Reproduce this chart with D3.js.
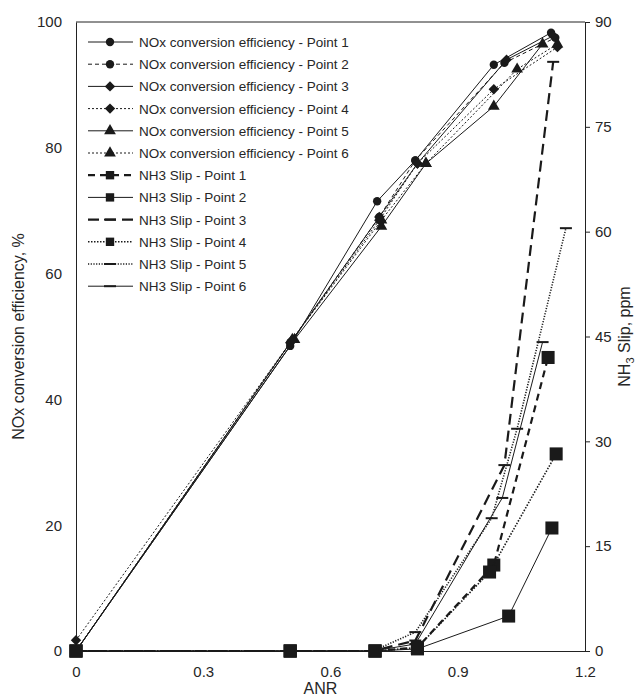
<!DOCTYPE html>
<html><head><meta charset="utf-8">
<script src="https://cdn.jsdelivr.net/npm/d3@7"></script>
<style>body{margin:0;background:#fff}svg{display:block;font-family:"Liberation Sans",Arial,sans-serif}</style>
</head><body><svg id="c" width="635" height="698"></svg>
<script>
// NOx conversion efficiency (%) vs ANR
const anrNOx1 = [0, 0.505, 0.71, 0.80, 0.985, 1.12];
const effNOx1 = [0, 48.5, 71.5, 78, 93.2, 98.3];
const anrNOx2 = [0, 0.505, 0.715, 0.80, 1.01, 1.13];
const effNOx2 = [0, 49, 69, 78, 93.5, 97.5];
const anrNOx3 = [0, 0.505, 0.715, 0.805, 1.015, 1.125];
const effNOx3 = [0, 49, 69, 77.5, 94, 97.8];
const anrNOx4 = [0, 0.51, 0.715, 0.805, 0.985, 1.135];
const effNOx4 = [1.7, 49.5, 68.5, 77.5, 89.3, 96];
const anrNOx5 = [0, 0.515, 0.72, 0.825, 0.985, 1.10];
const effNOx5 = [0, 49.5, 67.5, 77.5, 86.6, 96.5];
const anrNOx6 = [0, 0.51, 0.72, 0.825, 1.04, 1.135];
const effNOx6 = [0, 49.5, 68.5, 77.5, 92.5, 96.5];
// NH3 slip (ppm) vs ANR
const anrNH3_1 = [0, 0.505, 0.705, 0.805, 0.985, 1.113];
const slipNH3_1 = [0, 0, 0, 0.5, 12.3, 42];
const anrNH3_2 = [0, 0.505, 0.705, 0.805, 1.02, 1.122];
const slipNH3_2 = [0, 0, 0, 0.3, 5, 17.6];
const anrNH3_3 = [0, 0.5, 0.7, 0.80, 1.01, 1.125];
const slipNH3_3 = [0, 0, 0, 1.5, 26.6, 84.3];
const anrNH3_4 = [0, 0.505, 0.705, 0.805, 0.975, 1.132];
const slipNH3_4 = [0, 0, 0, 0.5, 11.3, 28.2];
const anrNH3_5 = [0, 0.5, 0.7, 0.80, 0.98, 1.04, 1.155];
const slipNH3_5 = [0, 0, 0, 2.7, 19, 31.8, 60.5];
const anrNH3_6 = [0, 0.5, 0.7, 0.80, 1.005, 1.10];
const slipNH3_6 = [0, 0, 0, 1, 21.9, 44.2];

const xTicks = [0, 0.3, 0.6, 0.9, 1.2];
const yLeftTicks = [0, 20, 40, 60, 80, 100];
const yRightTicks = [0, 15, 30, 45, 60, 75, 90];
const legendLabels = [
  "NOx conversion efficiency - Point 1","NOx conversion efficiency - Point 2",
  "NOx conversion efficiency - Point 3","NOx conversion efficiency - Point 4",
  "NOx conversion efficiency - Point 5","NOx conversion efficiency - Point 6",
  "NH3 Slip - Point 1","NH3 Slip - Point 2","NH3 Slip - Point 3",
  "NH3 Slip - Point 4","NH3 Slip - Point 5","NH3 Slip - Point 6"];

const svg = d3.select("#c");
const L = 76, R = 585, T = 22, B = 651;
const x = d3.scaleLinear().domain([0, 1.2]).range([L, R]);
const yL = d3.scaleLinear().domain([0, 100]).range([B, T]);
const yR = d3.scaleLinear().domain([0, 90]).range([B, T]);
const ink = "#1a1a1a", txt = "#262626";

// frame
svg.append("line").attr("x1", L).attr("x2", R).attr("y1", T).attr("y2", T).attr("stroke", "#222").attr("stroke-width", 1);
const axB = svg.append("g").attr("transform", `translate(0,${B})`)
  .call(d3.axisBottom(x).tickValues(xTicks).tickFormat(d => d === 0 ? "0" : d3.format(".1f")(d)).tickSize(0).tickPadding(15));
const axL = svg.append("g").attr("transform", `translate(${L},0)`)
  .call(d3.axisLeft(yL).tickValues(yLeftTicks).tickSize(0).tickPadding(14));
const axR = svg.append("g").attr("transform", `translate(${R},0)`)
  .call(d3.axisRight(yR).tickValues(yRightTicks).tickSize(5).tickPadding(5));
[axB, axL, axR].forEach(a => {
  a.select(".domain").attr("stroke", "#222");
  a.selectAll(".tick line").attr("stroke", "#222");
  a.selectAll("text").attr("font-size", 15).attr("fill", txt).attr("font-family", "Liberation Sans, Arial, sans-serif");
});

// titles
svg.append("text").attr("x", (L + R) / 2 - 10).attr("y", 694).attr("text-anchor", "middle")
  .attr("font-size", 16).attr("fill", txt).text("ANR");
svg.append("text").attr("transform", `translate(24,${(T + B) / 2}) rotate(-90)`).attr("text-anchor", "middle")
  .attr("font-size", 16).attr("fill", txt).text("NOx conversion efficiency, %");
const rt = svg.append("text").attr("transform", `translate(630,${(T + B) / 2}) rotate(-90)`).attr("text-anchor", "middle")
  .attr("font-size", 16).attr("fill", txt);
rt.append("tspan").text("NH");
rt.append("tspan").attr("font-size", 11).attr("dy", 4).text("3");
rt.append("tspan").attr("dy", -4).text(" Slip, ppm");

const series = [
  {xs: anrNOx1, ys: effNOx1, y: yL, dash: null, w: 1, m: "circle"},
  {xs: anrNOx2, ys: effNOx2, y: yL, dash: "4,3", w: 1, m: "circle"},
  {xs: anrNOx3, ys: effNOx3, y: yL, dash: null, w: 1, m: "diamond"},
  {xs: anrNOx4, ys: effNOx4, y: yL, dash: "2,2", w: 1, m: "diamond"},
  {xs: anrNOx5, ys: effNOx5, y: yL, dash: null, w: 1, m: "triangle"},
  {xs: anrNOx6, ys: effNOx6, y: yL, dash: "2,2", w: 1, m: "triangle"},
  {xs: anrNH3_1, ys: slipNH3_1, y: yR, dash: "7,5", w: 2.2, m: "square"},
  {xs: anrNH3_2, ys: slipNH3_2, y: yR, dash: null, w: 1, m: "square"},
  {xs: anrNH3_3, ys: slipNH3_3, y: yR, dash: "11,6", w: 2.2, m: "dash"},
  {xs: anrNH3_4, ys: slipNH3_4, y: yR, dash: "1.5,1.5", w: 1.6, m: "square"},
  {xs: anrNH3_5, ys: slipNH3_5, y: yR, dash: "1.2,1.5", w: 1.6, m: "dash"},
  {xs: anrNH3_6, ys: slipNH3_6, y: yR, dash: null, w: 1, m: "dash"}
];

function marker(g, type, cx, cy, big) {
  if (type === "dash") {
    g.append("line").attr("x1", cx - 6).attr("x2", cx + 6).attr("y1", cy).attr("y2", cy)
      .attr("stroke", ink).attr("stroke-width", 2);
    return;
  }
  if (type === "diamond") {
    const r = 5.2;
    g.append("path").attr("d", `M0,${-r}L${r},0L0,${r}L${-r},0Z`)
      .attr("transform", `translate(${cx},${cy})`).attr("fill", ink);
    return;
  }
  const sym = {circle: d3.symbolCircle, triangle: d3.symbolTriangle, square: d3.symbolSquare}[type];
  const size = {circle: 55, triangle: 60, square: big ? 170 : 70}[type];
  g.append("path").attr("d", d3.symbol().type(sym).size(size)())
    .attr("transform", `translate(${cx},${cy})`).attr("fill", ink);
}

const plot = svg.append("g");
series.forEach(s => {
  const pts = s.xs.map((v, i) => [v, s.ys[i]]);
  const line = d3.line().x(d => x(d[0])).y(d => s.y(d[1]));
  plot.append("path").datum(pts).attr("d", line).attr("fill", "none")
    .attr("stroke", ink).attr("stroke-width", s.w).attr("stroke-dasharray", s.dash);
  pts.forEach(p => marker(plot, s.m, x(p[0]), s.y(p[1]), true));
});

// legend
const lg = svg.append("g");
legendLabels.forEach((lab, i) => {
  const s = series[i];
  const cy = 42 + i * 22.2;
  lg.append("line").attr("x1", 88).attr("x2", 133).attr("y1", cy).attr("y2", cy)
    .attr("stroke", ink).attr("stroke-width", s.w).attr("stroke-dasharray", s.dash);
  marker(lg, s.m, 110, cy, false);
  lg.append("text").attr("x", 139).attr("y", cy + 5).attr("font-size", 13.5).attr("fill", txt).text(lab);
});
</script></body></html>
